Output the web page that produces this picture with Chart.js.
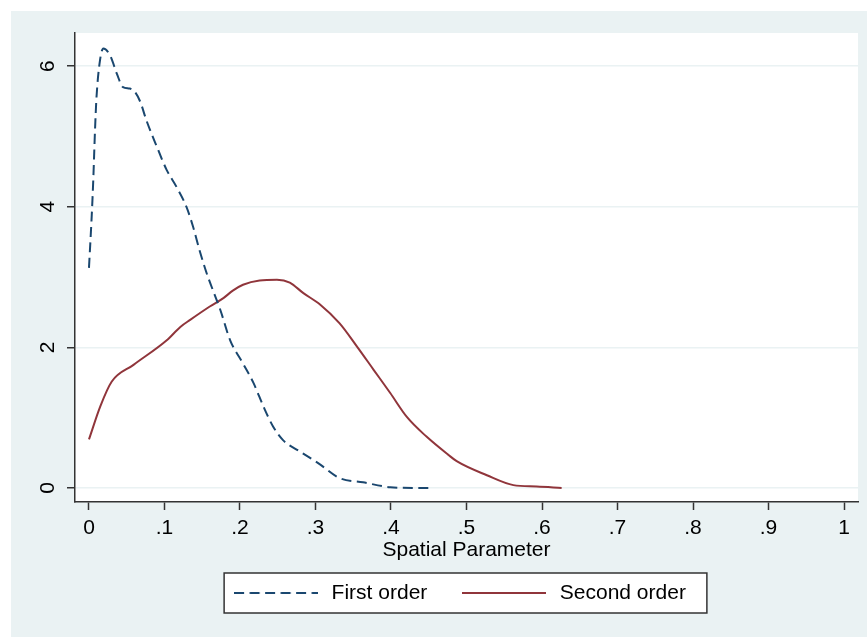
<!DOCTYPE html>
<html>
<head>
<meta charset="utf-8">
<script src="https://cdn.jsdelivr.net/npm/chart.js@4/dist/chart.umd.min.js"></script>
<style>
  html, body { margin: 0; padding: 0; background: #fff; }
  #wrap { width: 867px; height: 637px; }
</style>
</head>
<body>
<div id="wrap"><canvas id="densityChart" width="867" height="637"></canvas></div>
<script>
// kernel density estimates
const firstX = [0, 0.0036, 0.0057, 0.008, 0.010, 0.0146, 0.019, 0.028, 0.037, 0.045, 0.054, 0.061, 0.068, 0.076, 0.090, 0.103, 0.116, 0.129, 0.138, 0.147, 0.156, 0.174, 0.187, 0.204, 0.218, 0.231, 0.244, 0.257, 0.279, 0.304, 0.332, 0.363, 0.399, 0.430, 0.454];
const firstY = [3.13, 3.86, 4.38, 5.09, 5.56, 6.08, 6.25, 6.15, 5.89, 5.70, 5.68, 5.63, 5.49, 5.23, 4.85, 4.52, 4.28, 4.0, 3.71, 3.36, 3.05, 2.53, 2.10, 1.77, 1.49, 1.16, 0.87, 0.68, 0.52, 0.35, 0.14, 0.08, 0.01, 0.0, 0.0];

const secondX = [0, 0.015, 0.030, 0.059, 0.103, 0.121, 0.134, 0.160, 0.178, 0.191, 0.204, 0.226, 0.249, 0.266, 0.284, 0.306, 0.332, 0.355, 0.377, 0.399, 0.421, 0.447, 0.476, 0.487, 0.527, 0.562, 0.593, 0.626];
const secondY = [0.69, 1.16, 1.51, 1.75, 2.10, 2.29, 2.39, 2.58, 2.70, 2.81, 2.89, 2.95, 2.96, 2.92, 2.77, 2.61, 2.34, 2.01, 1.68, 1.35, 1.01, 0.73, 0.47, 0.38, 0.18, 0.04, 0.02, 0.0];

const xTicks = [0, 0.1, 0.2, 0.3, 0.4, 0.5, 0.6, 0.7, 0.8, 0.9, 1];
const yTicks = [0, 2, 4, 6];
const seriesNames = ['First order', 'Second order'];

const toPoints = (xs, ys) => xs.map((x, i) => ({ x: x, y: ys[i] }));

// little line images for the legend keys (the builtin 'line' point style ignores dashes)
function legendKey(color, dash) {
  const c = document.createElement('canvas');
  c.width = 84;
  c.height = 4;
  const g = c.getContext('2d');
  g.strokeStyle = color;
  g.lineWidth = 2;
  g.setLineDash(dash);
  g.beginPath();
  g.moveTo(0, 2);
  g.lineTo(84, 2);
  g.stroke();
  return c;
}

// Stata-like background: grey-blue outer region, white plot region, boxed legend
const stataBackground = {
  id: 'stataBackground',
  afterLayout(chart) {
    // nudge legend a bit left, like the original
    chart.legend.left -= 8;
    chart.legend.right -= 8;
  },
  beforeDraw(chart) {
    const { ctx, chartArea } = chart;
    ctx.save();
    ctx.fillStyle = '#ffffff';
    ctx.fillRect(0, 0, chart.width, chart.height);
    ctx.fillStyle = '#eaf2f3';
    ctx.fillRect(11, 11, chart.width - 11, chart.height - 11);
    ctx.fillStyle = '#ffffff';
    ctx.fillRect(chartArea.left, chartArea.top, chartArea.right - chartArea.left, chartArea.bottom - chartArea.top);

    const boxes = chart.legend && chart.legend.legendHitBoxes;
    if (boxes && boxes.length) {
      const first = boxes[0];
      const last = boxes[boxes.length - 1];
      const left = first.left - 7;
      const right = last.left + last.width + 21;
      const mid = first.top + first.height / 2;
      ctx.fillStyle = '#ffffff';
      ctx.fillRect(left, mid - 20, right - left, 40);
      ctx.strokeStyle = '#333333';
      ctx.lineWidth = 1.5;
      ctx.strokeRect(left, mid - 20, right - left, 40);
    }
    ctx.restore();
  }
};

const font = { family: '"Liberation Sans", Arial, sans-serif', size: 21 };

new Chart(document.getElementById('densityChart'), {
  type: 'line',
  data: {
    datasets: [
      {
        label: seriesNames[0],
        data: toPoints(firstX, firstY),
        borderColor: '#1a476f',
        backgroundColor: '#1a476f',
        borderWidth: 2,
        borderDash: [10, 5.5],
        pointRadius: 0,
        pointStyle: legendKey('#1a476f', [10, 5.5]),
        cubicInterpolationMode: 'monotone',
        fill: false
      },
      {
        label: seriesNames[1],
        data: toPoints(secondX, secondY),
        borderColor: '#90353b',
        backgroundColor: '#90353b',
        borderWidth: 2,
        pointRadius: 0,
        pointStyle: legendKey('#90353b', []),
        cubicInterpolationMode: 'monotone',
        fill: false
      }
    ]
  },
  options: {
    responsive: false,
    animation: false,
    layout: { padding: { left: 11, top: 33, right: 9, bottom: 23.5 } },
    scales: {
      x: {
        type: 'linear',
        min: -0.0185,
        max: 1.0185,
        afterBuildTicks: (scale) => { scale.ticks = xTicks.map(v => ({ value: v })); },
        afterFit: (scale) => { scale.height = 48.5; },
        ticks: {
          font: font,
          color: '#000',
          padding: 5.4,
          maxRotation: 0,
          autoSkip: false,
          callback: (v) => (v === 0 ? '0' : v === 1 ? '1' : String(Math.round(v * 10) / 10).replace(/^0/, ''))
        },
        grid: { drawOnChartArea: false, drawTicks: true, tickLength: 8, tickColor: '#333333', tickWidth: 1.5 },
        border: { display: true, color: '#333333', width: 1.5 },
        title: { display: true, text: 'Spatial Parameter', font: font, color: '#000', padding: { top: 0, bottom: -12.1 } }
      },
      y: {
        type: 'linear',
        min: -0.2,
        max: 6.47,
        afterBuildTicks: (scale) => { scale.ticks = yTicks.map(v => ({ value: v })); },
        afterFit: (scale) => { scale.width = 64; },
        ticks: {
          font: font,
          color: '#000',
          padding: 12.5,
          minRotation: 90,
          maxRotation: 90,
          crossAlign: 'center',
          callback: (v) => String(v)
        },
        grid: { color: '#eaf2f3', lineWidth: 1.5, tickLength: 8, tickColor: '#333333', tickWidth: 1.5 },
        border: { display: true, color: '#333333', width: 1.5 }
      }
    },
    plugins: {
      legend: {
        position: 'bottom',
        fullSize: false,
        labels: {
          font: font,
          color: '#000',
          usePointStyle: true,
          pointStyleWidth: 90,
          padding: 32
        }
      },
      tooltip: { enabled: false }
    }
  },
  plugins: [stataBackground]
});
</script>
</body>
</html>
